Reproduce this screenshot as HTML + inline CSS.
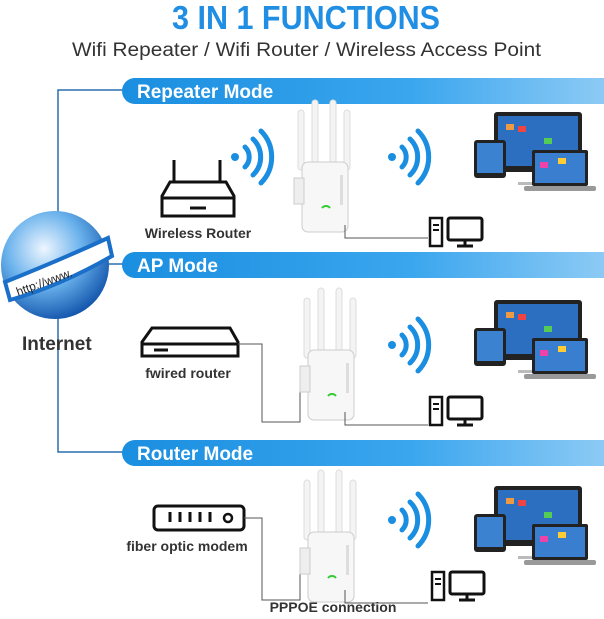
<!DOCTYPE html>
<html><head><meta charset="utf-8"><style>
body{margin:0;width:604px;height:614px;background:#fff;overflow:hidden;font-family:"Liberation Sans",sans-serif}
</style></head><body>
<svg width="604" height="614" viewBox="0 0 604 614" xmlns="http://www.w3.org/2000/svg" font-family="Liberation Sans, sans-serif">
<defs>
<linearGradient id="bar" x1="0" x2="1"><stop offset="0" stop-color="#1a8ee0"/><stop offset="0.6" stop-color="#3aa6ee"/><stop offset="1" stop-color="#8ccaf5"/></linearGradient>
<radialGradient id="globe" cx="0.4" cy="0.35" r="0.7"><stop offset="0" stop-color="#eef6ff"/><stop offset="0.5" stop-color="#6ab2ec"/><stop offset="1" stop-color="#0d4fa8"/></radialGradient>
<g id="ext"><rect x="-4" y="-60" width="6" height="60" rx="3" fill="#f4f4f4" stroke="#ddd"/><rect x="10" y="-70" width="6" height="70" rx="3" fill="#f4f4f4" stroke="#ddd"/><rect x="28" y="-70" width="6" height="70" rx="3" fill="#f4f4f4" stroke="#ddd"/><rect x="42" y="-60" width="6" height="60" rx="3" fill="#f4f4f4" stroke="#ddd"/><rect x="0" y="-8" width="46" height="70" rx="6" fill="#f7f7f7" stroke="#ccc"/><rect x="-8" y="8" width="10" height="26" fill="#eee" stroke="#ccc"/><path d="M20 38 a5 5 0 0 1 8 0" stroke="#3c3" fill="none" stroke-width="2"/><rect x="38" y="5" width="3" height="30" fill="#ddd"/></g>
<g id="wifi" fill="none" stroke="#1a8ee0" stroke-width="5" stroke-linecap="round"><circle cx="0" cy="0" r="4" fill="#1a8ee0" stroke="none"/><path d="M10 -10 a14 14 0 0 1 0 20"/><path d="M18 -18 a25 25 0 0 1 0 36"/><path d="M26 -26 a37 37 0 0 1 0 52"/></g>
<g id="pc"><rect x="0" y="0" width="12" height="28" fill="#fff" stroke="#111" stroke-width="2.5"/><line x1="3" y1="7" x2="9" y2="7" stroke="#111" stroke-width="2"/><line x1="3" y1="12" x2="9" y2="12" stroke="#111" stroke-width="2"/><rect x="18" y="0" width="34" height="22" rx="2" fill="#fff" stroke="#111" stroke-width="3"/><line x1="35" y1="22" x2="35" y2="28" stroke="#111" stroke-width="3"/><line x1="27" y1="28" x2="43" y2="28" stroke="#111" stroke-width="3"/></g>
<g id="dev"><rect x="20" y="0" width="88" height="60" rx="3" fill="#222"/><rect x="24" y="4" width="80" height="50" fill="#2c6fc0"/><rect x="58" y="60" width="12" height="10" fill="#aaa"/><rect x="44" y="70" width="40" height="3" fill="#bbb"/><rect x="0" y="28" width="32" height="38" rx="3" fill="#222"/><rect x="3" y="31" width="26" height="30" fill="#3b82d0"/><rect x="58" y="38" width="56" height="36" rx="2" fill="#222"/><rect x="61" y="41" width="50" height="30" fill="#3a7ed0"/><rect x="50" y="74" width="72" height="5" rx="2" fill="#999"/>
<g fill="#e94"><rect x="32" y="12" width="8" height="6"/><rect x="70" y="26" width="8" height="6" fill="#5c5"/><rect x="44" y="14" width="8" height="6" fill="#e44"/><rect x="84" y="46" width="8" height="6" fill="#fc3"/><rect x="66" y="50" width="8" height="6" fill="#e4a"/></g></g>
</defs>
<text x="172" y="29" font-size="33" font-weight="bold" fill="#1f8ee3" textLength="268" lengthAdjust="spacingAndGlyphs">3 IN 1 FUNCTIONS</text>
<text x="72" y="56" font-size="19" fill="#333" textLength="469" lengthAdjust="spacingAndGlyphs">Wifi Repeater / Wifi Router / Wireless Access Point</text>
<g fill="none" stroke="#2a6fb0" stroke-width="1.5"><path d="M124 90 H58 V220"/><path d="M100 264 H124"/><path d="M58 300 V452 H124"/></g>
<g><path d="M135 78 H604 V104 H135 a13 13 0 0 1 0 -26z" fill="url(#bar)"/><text x="137" y="98" font-size="19" font-weight="bold" fill="#fff">Repeater Mode</text>
<path d="M135 252 H604 V278 H135 a13 13 0 0 1 0 -26z" fill="url(#bar)"/><text x="137" y="272" font-size="19" font-weight="bold" fill="#fff">AP Mode</text>
<path d="M135 440 H604 V466 H135 a13 13 0 0 1 0 -26z" fill="url(#bar)"/><text x="137" y="460" font-size="19" font-weight="bold" fill="#fff">Router Mode</text></g>
<circle cx="55" cy="265" r="54" fill="url(#globe)"/>
<path d="M5 282 Q60 260 108 238 L112 256 Q60 286 10 300z" fill="#fff" stroke="#1a6fc8" stroke-width="4"/>
<text x="18" y="296" font-size="12" fill="#222" transform="rotate(-20 18 296)">http://www.</text>
<text x="22" y="350" font-size="19" font-weight="bold" fill="#333">Internet</text>
<g fill="none" stroke="#111" stroke-width="3"><line x1="174" y1="160" x2="174" y2="182"/><line x1="220" y1="160" x2="220" y2="182"/><path d="M170 182 H226 L234 196 V216 H162 V196z"/><line x1="162" y1="198" x2="234" y2="198"/><line x1="190" y1="208" x2="206" y2="208"/></g>
<text x="198" y="238" text-anchor="middle" font-size="14" font-weight="bold" fill="#333">Wireless Router</text>
<use href="#wifi" x="235" y="157"/>
<use href="#ext" x="302" y="170"/>
<use href="#wifi" x="392" y="157"/>
<path d="M345 225 V238 H428" fill="none" stroke="#555"/>
<use href="#pc" x="430" y="218"/>
<use href="#dev" x="474" y="112"/>
<g fill="none" stroke="#111" stroke-width="3"><path d="M152 328 H230 L238 342 V356 H142 V342z"/><line x1="142" y1="344" x2="238" y2="344"/><line x1="154" y1="350" x2="168" y2="350"/></g>
<text x="188" y="378" text-anchor="middle" font-size="14" font-weight="bold" fill="#333">fwired router</text>
<path d="M238 344 H262 V422 H300 V380" fill="none" stroke="#555"/>
<use href="#ext" x="308" y="358"/>
<use href="#wifi" x="392" y="345"/>
<path d="M345 412 V425 H428" fill="none" stroke="#555"/>
<use href="#pc" x="430" y="397"/>
<use href="#dev" x="474" y="300"/>
<rect x="154" y="506" width="90" height="24" rx="4" fill="none" stroke="#111" stroke-width="3"/>
<g stroke="#111" stroke-width="3"><line x1="170" y1="512" x2="170" y2="522"/><line x1="180" y1="512" x2="180" y2="522"/><line x1="190" y1="512" x2="190" y2="522"/><line x1="200" y1="512" x2="200" y2="522"/><line x1="210" y1="512" x2="210" y2="522"/></g>
<circle cx="228" cy="518" r="4" fill="none" stroke="#111" stroke-width="2.5"/>
<text x="187" y="551" text-anchor="middle" font-size="14" font-weight="bold" fill="#333">fiber optic modem</text>
<path d="M244 518 H262 V600 H300 V560" fill="none" stroke="#555"/>
<use href="#ext" x="308" y="540"/>
<use href="#wifi" x="392" y="520"/>
<path d="M345 590 V603 H428" fill="none" stroke="#555"/>
<use href="#pc" x="432" y="572"/>
<use href="#dev" x="474" y="486"/>
<text x="333" y="612" text-anchor="middle" font-size="14" font-weight="bold" fill="#333">PPPOE connection</text>
</svg>
</body></html>
